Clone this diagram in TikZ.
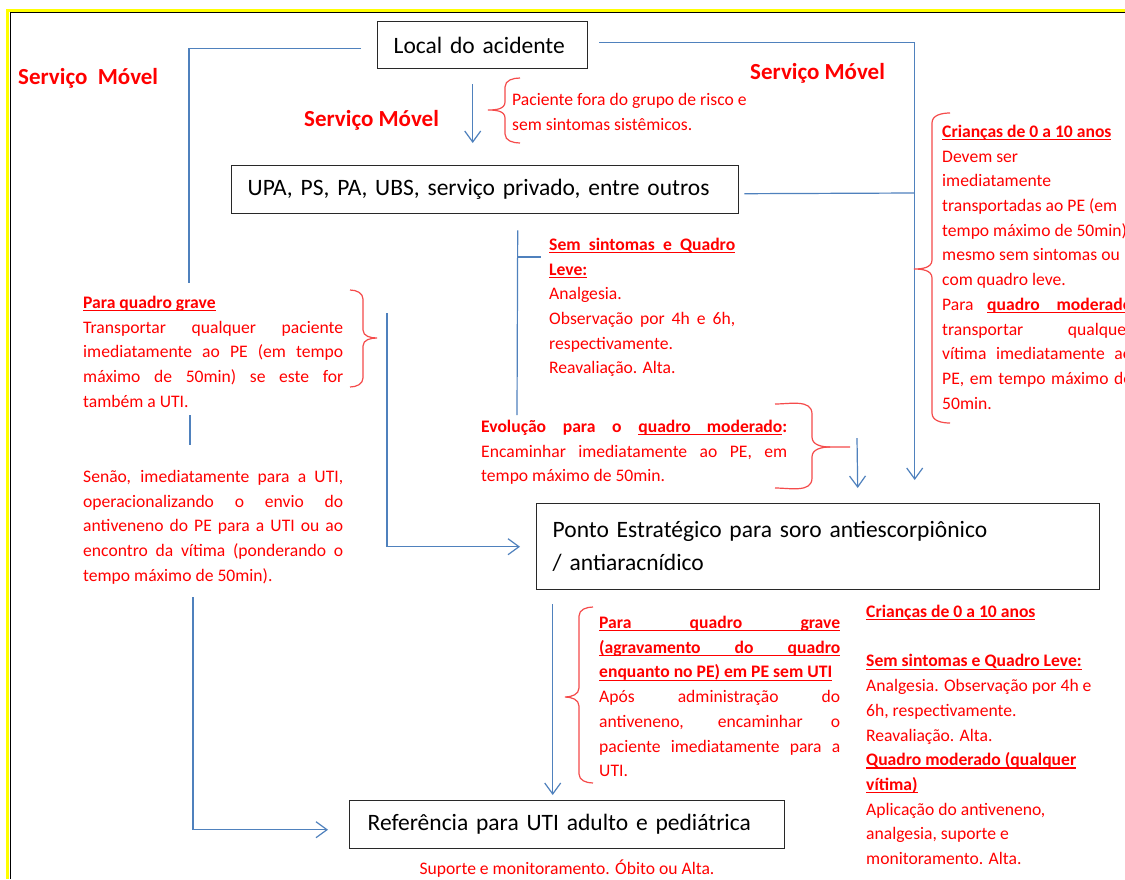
\documentclass[tikz,border=0pt]{standalone}
\usepackage{fontspec}
\setmainfont{Carlito}
\usetikzlibrary{arrows.meta}
\definecolor{cblue}{RGB}{79,129,189}
\definecolor{bred}{RGB}{245,75,75}
\definecolor{tred}{RGB}{255,0,0}
\definecolor{boxc}{RGB}{40,40,40}
\definecolor{fyel}{RGB}{255,255,0}
\newcommand{\rs}{\fontsize{17.6}{24.7}\selectfont}
\newcommand{\bx}{\fontsize{23.5}{33}\selectfont}
\newcommand{\svcf}{\fontsize{23}{26}\selectfont\bfseries}
\newcommand{\jl}[2]{\makebox[#1pt][s]{#2}}
\newsavebox{\ulbox}
\newcommand{\ulx}[1]{\sbox{\ulbox}{#1}\rlap{\rule[-2.8pt]{\wd\ulbox}{1.2pt}}\usebox{\ulbox}}
\begin{document}
\begin{tikzpicture}[x=1pt,y=-1pt,
 conn/.style={draw=cblue,line width=1.2pt},
 arr/.style={conn,-{Straight Barb[length=11pt,width=16pt]}},
 brace/.style={draw=bred,line width=1.2pt},
 box/.style={draw=boxc,line width=1.4pt,inner ysep=0pt,align=left,font=\bx,anchor=north west},
 rtext/.style={text=tred,inner sep=0pt,anchor=north west,align=left,font=\rs},
 svc/.style={text=tred,inner sep=0pt,anchor=base west,font=\svcf}]
\useasboundingbox (0,0) rectangle (1125,879);
\fill[white] (0,0) rectangle (1125,879);
% frame
\draw[fyel,line width=3pt] (7.5,879) -- (7.5,10) -- (1125,10);
\draw[black,line width=1.8pt] (10.5,879) -- (10.5,12.5) -- (1125,12.5);

% boxes
\node[box,minimum width=210pt,minimum height=47pt,text width=178pt,inner xsep=16pt] (loc) at (377,21) {Local do acidente};
\node[box,minimum width=507pt,minimum height=48pt,text width=475pt,inner xsep=16pt] (upa) at (231,165) {UPA, PS, PA, UBS, serviço privado, entre outros};
\node[box,minimum width=563pt,minimum height=86pt,text width=531pt,inner xsep=16pt] (ponto) at (536,503) {Ponto Estratégico para soro antiescorpiônico\\ / antiaracnídico};
\node[box,minimum width=435pt,minimum height=48pt,text width=399pt,inner xsep=18pt] (ref) at (349,800) {Referência para UTI adulto e pediátrica};

% Servico Movel labels
\node[svc] (sm1) at (18,84) {Serviço~~Móvel};
\node[svc] (sm2) at (304,126) {Serviço Móvel};
\node[svc] (sm3) at (750,79) {Serviço Móvel};

% red texts
\node[rtext] (pac) at (512,88) {\strut Paciente fora do grupo de risco e\\sem sintomas sistêmicos.};

\node[rtext] (sem) at (549,233) {\strut\ulx{\jl{186}{\textbf{Sem sintomas e Quadro}}}\\
\ulx{\textbf{Leve:}}\\
Analgesia.\\
\jl{186}{Observação por 4h e 6h,}\\
respectivamente.\\
Reavaliação. Alta.};

\node[rtext] (evo) at (481,415) {\strut\makebox[306pt]{\textbf{Evolução}\hfill\textbf{para}\hfill\textbf{o}\hfill\ulx{\jl{144}{\textbf{quadro moderado}}}\textbf{:}}\\
\jl{306}{Encaminhar imediatamente ao PE, em}\\
tempo máximo de 50min.};

\node[rtext] (cri) at (942,120) {\strut\ulx{\textbf{Crianças de 0 a 10 anos}}\\
Devem ser\\
imediatamente\\
transportadas ao PE (em\\
tempo máximo de 50min)\\
mesmo sem sintomas ou\\
com quadro leve.\\
\makebox[190pt]{Para\hfill\ulx{\jl{145}{\textbf{quadro moderado}}}}\\
\jl{190}{transportar qualquer}\\
\jl{190}{vítima imediatamente ao}\\
\jl{190}{PE, em tempo máximo de}\\
50min.};

\node[rtext] (grave) at (83,291) {\strut\ulx{\textbf{Para quadro grave}}\\
\jl{260}{Transportar qualquer paciente}\\
\jl{260}{imediatamente ao PE (em tempo}\\
\jl{260}{máximo de 50min) se este for}\\
também a UTI.};

\node[rtext] (senao) at (83,465) {\strut\jl{260}{Senão, imediatamente para a UTI,}\\
\jl{260}{operacionalizando o envio do}\\
\jl{260}{antiveneno do PE para a UTI ou ao}\\
\jl{260}{encontro da vítima (ponderando o}\\
tempo máximo de 50min).};

\node[rtext] (pgr) at (599,611) {\strut\ulx{\jl{241}{\textbf{Para quadro grave}}}\\
\ulx{\jl{241}{\textbf{(agravamento do quadro}}}\\
\ulx{\textbf{enquanto no PE) em PE sem UTI}}\\
\jl{241}{Após administração do}\\
\jl{241}{antiveneno, encaminhar o}\\
\jl{241}{paciente imediatamente para a}\\
UTI.};

\node[rtext] (cri2) at (866,600) {\strut\ulx{\textbf{Crianças de 0 a 10 anos}}\\
\strut\\
\ulx{\textbf{Sem sintomas e Quadro Leve:}}\\
Analgesia. Observação por 4h e\\
6h, respectivamente.\\
Reavaliação. Alta.\\
\ulx{\textbf{Quadro moderado (qualquer}}\\
\ulx{\textbf{vítima)}}\\
Aplicação do antiveneno,\\
analgesia, suporte e\\
monitoramento. Alta.};

\node[text=tred,inner sep=0pt,anchor=base,font=\rs] (sup) at (567,874) {Suporte e monitoramento. Óbito ou Alta.};

% free-end coordinates
\coordinate (l1) at (189,283);
\coordinate (l2) at (190,415);
\coordinate (l3) at (190,445);
\coordinate (l4) at (193,597);
\coordinate (s2) at (517,415);
\coordinate (s3) at (517,257);
\coordinate (s4) at (541,257);
\coordinate (p1) at (387,313);
\coordinate (e1) at (857,438);
\coordinate (r2) at (914,193);

% connectors
\draw[conn] ([xshift=-16pt,yshift=-3pt]loc.west) -| (l1);
\draw[conn] (l2) -- (l3);
\draw[arr] (l4) |- ([xshift=-21pt,yshift=-5pt]ref.west);
\draw[arr] ([xshift=11pt,yshift=2.5pt]loc.east) -| ([xshift=96.5pt,yshift=23pt]ponto.north);
\draw[conn] ([xshift=5pt,yshift=-4pt]upa.east) -- (r2);
\draw[arr] ([xshift=-10pt,yshift=-15pt]loc.south) -- ([xshift=-12.5pt,yshift=22pt]upa.north);
\draw[conn] ([xshift=32.5pt,yshift=-16pt]upa.south) -- (s2);
\draw[conn] (s3) -- (s4);
\draw[arr] (p1) |- ([xshift=-16pt]ponto.west);
\draw[arr] (e1) -- ([xshift=39.5pt,yshift=15pt]ponto.north);
\draw[arr] ([xshift=-265.5pt,yshift=-14pt]ponto.south) -- ([xshift=-14.5pt,yshift=5pt]ref.north);

% braces
\draw[brace] (520,78) to[out=180,in=90] (505,87) -- (505,102) to[out=-90,in=0] (488,110) to[out=0,in=90] (505,118) -- (505,134) to[out=-90,in=180] (520,143);
\draw[brace] (950,113) to[out=180,in=90] (932,123) -- (932,260) to[out=-90,in=0] (914,269) to[out=0,in=90] (932,278) -- (932,413) to[out=-90,in=180] (950,423);
\draw[brace] (350,290) to[out=0,in=90] (363,299) -- (363,330) to[out=-90,in=180] (377,338) to[out=180,in=90] (363,346) -- (363,378) to[out=-90,in=0] (350,387);
\draw[brace] (775,404) to[out=0,in=90] (812,414) -- (812,437) to[out=-90,in=180] (830,447) -- (850,447);
\draw[brace] (830,447) to[out=180,in=90] (812,457) -- (812,478) to[out=-90,in=0] (775,488);
\draw[brace] (593,607) to[out=180,in=90] (579,616) -- (579,688) to[out=-90,in=0] (565,697) to[out=0,in=90] (579,706) -- (579,774) to[out=-90,in=180] (593,783);
\end{tikzpicture}
\end{document}
